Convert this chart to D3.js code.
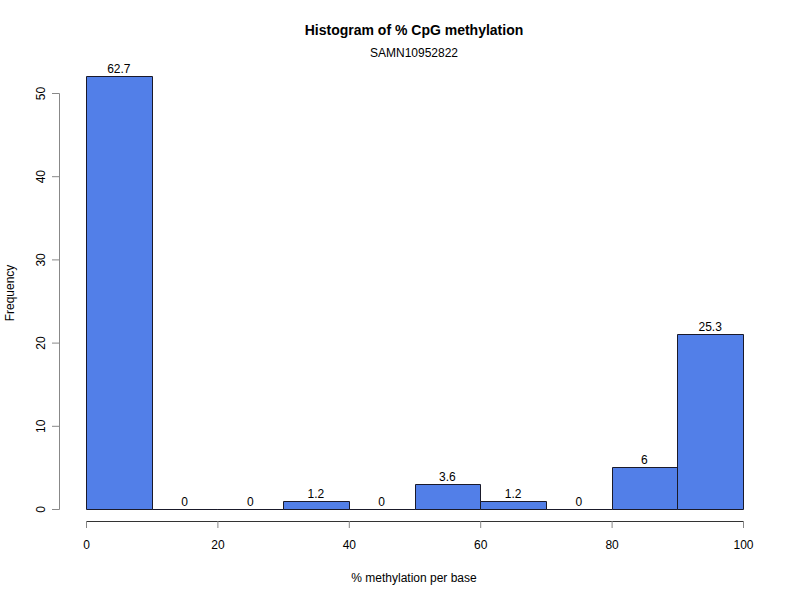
<!DOCTYPE html>
<html><head><meta charset="utf-8">
<script src="https://cdn.jsdelivr.net/npm/d3@7"></script>
<style>body{margin:0;background:#fff}svg{display:block;font-family:"Liberation Sans",Arial,sans-serif}</style>
</head><body>
<svg id="c" width="800" height="600"></svg>
<script>
const binStarts = [0,10,20,30,40,50,60,70,80,90];
const binWidth = 10;
const counts = [52,0,0,1,0,3,1,0,5,21];
const pctLabels = ["62.7","0","0","1.2","0","3.6","1.2","0","6","25.3"];
const xTicks = [0,20,40,60,80,100];
const yTicks = [0,10,20,30,40,50];

const svg = d3.select("#c");
const x = d3.scaleLinear().domain([0,100]).range([86,743]);
const y = d3.scaleLinear().domain([0,50]).range([509,93]);

svg.selectAll("path.bar").data(binStarts).enter().append("path")
  .attr("class","bar")
  .attr("d",(d,i)=>{
    const x0=Math.round(x(d))+0.5, x1=Math.round(x(d+binWidth))+0.5;
    const y0=Math.round(y(0))+0.5, y1=Math.round(y(counts[i]))+0.5;
    return `M${x0},${y0}L${x0},${y1}L${x1},${y1}L${x1},${y0}Z`;
  })
  .attr("fill","#527FE8").attr("stroke","#1a1a2a").attr("stroke-width",1);

svg.selectAll("text.lab").data(binStarts).enter().append("text")
  .attr("x",(d)=>x(d+binWidth/2))
  .attr("y",(d,i)=>y(counts[i])-3)
  .attr("text-anchor","middle").attr("font-size",12).text((d,i)=>pctLabels[i]);

const xa = svg.append("g").attr("transform","translate(0,521)")
  .call(d3.axisBottom(x).tickValues(xTicks).tickSize(7).tickPadding(12));
xa.selectAll("text").attr("font-size",12).attr("fill","#000").attr("font-family","Liberation Sans, Arial, sans-serif");
xa.select(".domain").attr("stroke","#333");
xa.selectAll(".tick line").attr("stroke","#888");

const ya = svg.append("g").attr("transform","translate(59,0)")
  .call(d3.axisLeft(y).tickValues(yTicks).tickSize(7).tickPadding(0));
ya.select(".domain").attr("stroke","#888");
ya.selectAll(".tick line").attr("stroke","#888");
ya.selectAll(".tick text").attr("font-size",12).attr("fill","#000").attr("font-family","Liberation Sans, Arial, sans-serif")
  .attr("text-anchor","middle").attr("x",0).attr("y",0).attr("dy","0.35em")
  .attr("transform","translate(-18,0) rotate(-90)");

svg.append("text").attr("x",414).attr("y",35).attr("text-anchor","middle")
  .attr("font-size",14).attr("font-weight","bold").text("Histogram of % CpG methylation");
svg.append("text").attr("x",414).attr("y",57).attr("text-anchor","middle")
  .attr("font-size",12).text("SAMN10952822");
svg.append("text").attr("x",414).attr("y",582).attr("text-anchor","middle")
  .attr("font-size",12).text("% methylation per base");
svg.append("text").attr("transform","translate(14,293) rotate(-90)").attr("text-anchor","middle")
  .attr("font-size",12).text("Frequency");
</script>
</body></html>
